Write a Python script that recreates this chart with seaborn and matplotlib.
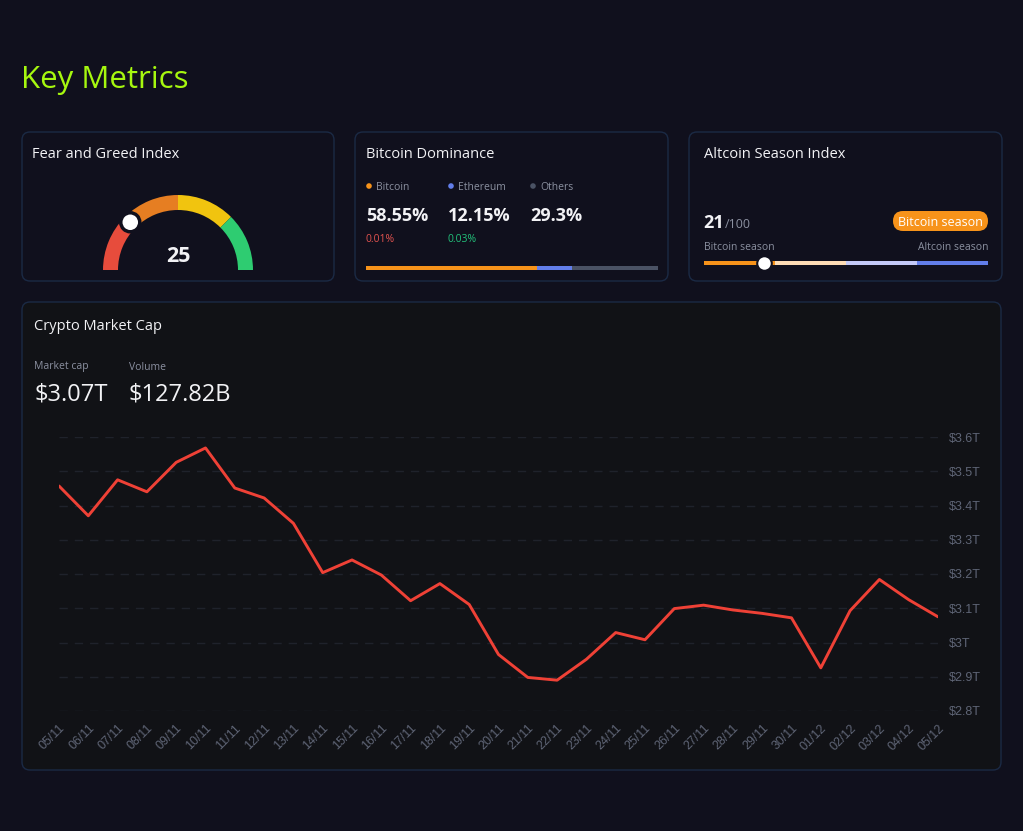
import matplotlib
matplotlib.use("Agg")
import matplotlib.pyplot as plt
from matplotlib.patches import FancyBboxPatch, Wedge, Circle
from matplotlib import font_manager
import numpy as np
import seaborn as sns
import pandas as pd

# ---- data ----
dates = ["05/11", "06/11", "07/11", "08/11", "09/11", "10/11", "11/11", "12/11",
         "13/11", "14/11", "15/11", "16/11", "17/11", "18/11", "19/11", "20/11",
         "21/11", "22/11", "23/11", "24/11", "25/11", "26/11", "27/11", "28/11",
         "29/11", "30/11", "01/12", "02/12", "03/12", "04/12", "05/12"]
market_cap = [3.457, 3.370, 3.475, 3.440, 3.526, 3.568, 3.451, 3.422,
              3.348, 3.204, 3.241, 3.197, 3.122, 3.172, 3.111, 2.965,
              2.898, 2.890, 2.951, 3.029, 3.008, 3.099, 3.109, 3.095,
              3.085, 3.072, 2.926, 3.093, 3.184, 3.125, 3.075]
y_ticks = [2.8, 2.9, 3.0, 3.1, 3.2, 3.3, 3.4, 3.5, 3.6]
y_tick_labels = ["$2.8T", "$2.9T", "$3T", "$3.1T", "$3.2T", "$3.3T", "$3.4T", "$3.5T", "$3.6T"]

fear_greed = 25
gauge_bands = [0, 25, 50, 75, 100]
gauge_colors = ["#e74c3c", "#e67e22", "#f1c40f", "#2ecc71"]

dom_names = ["Bitcoin", "Ethereum", "Others"]
dom_share = [58.55, 12.15, 29.3]
dom_labels = ["58.55%", "12.15%", "29.3%"]
dom_change = ["0.01%", "0.03%", ""]
dom_colors = ["#f7931a", "#627eea", "#4a5264"]

altcoin_index = 21
alt_bands = [25, 25, 25, 25]
alt_colors = ["#f7931a", "#fddcb5", "#c3c9f7", "#627eea"]

market_cap_now = "$3.07T"
volume_now = "$127.82B"

# ---- style ----
W, H = 1023, 831
BG = "#10101d"
CHART_BG = "#111216"
BORDER = "#1b2a45"
WHITE = "#f2f2f5"
GREY = "#8b90a0"
TICK = "#5f6576"

sns.set_theme(style="dark")

# pick a family that really has a bold face installed
weights = {}
for f in font_manager.fontManager.ttflist:
    weights.setdefault(f.name, set()).add(f.weight)
FONT = "Noto Sans"
for cand in ["Noto Sans", "Open Sans", "Lato", "Roboto", "Inter"]:
    ws = weights.get(cand, set())
    if any(w in (600, 700, "bold", "semibold") for w in ws):
        FONT = cand
        break
plt.rcParams["font.family"] = [FONT, "DejaVu Sans"]

fig = plt.figure(figsize=(W / 100, H / 100), dpi=100, facecolor=BG)
bg = fig.add_axes([0, 0, 1, 1])
bg.set_xlim(0, W)
bg.set_ylim(0, H)
bg.axis("off")


def Y(y):
    return H - y


def card(x0, y0, x1, y1, face):
    bg.add_patch(FancyBboxPatch((x0 + 8, Y(y1) + 8), x1 - x0 - 16, y1 - y0 - 16,
                                boxstyle="round,pad=8", facecolor=face,
                                edgecolor=BORDER, linewidth=1))


def txt(x, y, s, size, color=WHITE, **kw):
    # small offset: va=center sits a little high for these fonts
    bg.text(x, Y(y + 2), s, fontsize=size, color=color, va="center", **kw)


txt(21, 78, "Key Metrics", 22.5, color="#a6f70f", weight="medium")

card(22, 132, 334, 281, BG)
card(355, 132, 668, 281, BG)
card(689, 132, 1002, 281, BG)
card(22, 302, 1001, 770, CHART_BG)

# ---- fear & greed gauge ----
txt(32, 153, "Fear and Greed Index", 10.5, weight="medium")
cx, cy, r_out, r_w = 178, Y(270), 75, 15
for i, col in enumerate(gauge_colors):
    a1 = 180 - gauge_bands[i + 1] * 1.8
    a2 = 180 - gauge_bands[i] * 1.8
    bg.add_patch(Wedge((cx, cy), r_out, a1, a2, width=r_w, facecolor=col, edgecolor="none"))
ang = np.radians(180 - fear_greed * 1.8)
rm = r_out - r_w / 2
bg.add_patch(Circle((cx + rm * np.cos(ang), cy + rm * np.sin(ang)), 9.5,
                    facecolor="white", edgecolor=BG, linewidth=2.5, zorder=5))
bg.text(cx, Y(257), str(fear_greed), fontsize=15.5, color=WHITE, weight="bold",
        ha="center", va="center")

# ---- bitcoin dominance ----
txt(366, 153, "Bitcoin Dominance", 10.5, weight="medium")
col_x = [366, 448, 530]
for i, name in enumerate(dom_names):
    bg.add_patch(Circle((col_x[i] + 3, Y(186)), 2.8, facecolor=dom_colors[i], edgecolor="none"))
    txt(col_x[i] + 10, 186, name, 7.5, color=GREY)
    txt(col_x[i], 214, dom_labels[i], 13, weight="bold")
chg_colors = ["#e0524f", "#22c07a", GREY]
for i, c in enumerate(dom_change):
    if c:
        txt(col_x[i], 238, c, 7.5, color=chg_colors[i])

dax = fig.add_axes([366 / W, Y(270) / H, 292 / W, 4 / H])
left = 0
for v, col in zip(dom_share, dom_colors):
    dax.barh(0, v, left=left, height=1, color=col, linewidth=0)
    left += v
dax.set_xlim(0, 100)
dax.set_ylim(-0.5, 0.5)
dax.axis("off")

# ---- altcoin season ----
txt(704, 153, "Altcoin Season Index", 10.5, weight="medium")
txt(703, 221, str(altcoin_index), 13, weight="bold")
txt(725, 223, "/100", 9, color=GREY)
bg.add_patch(FancyBboxPatch((893, Y(231)), 95, 20, boxstyle="round,pad=0,rounding_size=10",
                            facecolor="#f7931a", edgecolor="none"))
bg.text(940.5, Y(222), "Bitcoin season", fontsize=9, color="white", ha="center", va="center")
txt(704, 246, "Bitcoin season", 7.5, color=GREY)
txt(988, 246, "Altcoin season", 7.5, color=GREY, ha="right")

aax = fig.add_axes([704 / W, Y(265) / H, 284 / W, 4 / H])
left = 0
for v, col in zip(alt_bands, alt_colors):
    aax.barh(0, v, left=left, height=1, color=col, linewidth=0)
    left += v
aax.scatter([altcoin_index], [0], s=110, color="white", edgecolor=BG, linewidth=1.5,
            zorder=5, clip_on=False)
aax.set_xlim(0, 100)
aax.set_ylim(-0.5, 0.5)
aax.axis("off")

# ---- crypto market cap ----
txt(34, 324, "Crypto Market Cap", 10.5, weight="medium")
txt(34, 365, "Market cap", 7.5, color=GREY)
txt(34, 392, market_cap_now, 17, weight="medium")
txt(129, 365, "Volume", 7.5, color=GREY)
txt(129, 392, volume_now, 17, weight="medium")

ax = fig.add_axes([59 / W, Y(711) / H, (938 - 59) / W, (711 - 437) / H])
ax.set_facecolor("none")
df = pd.DataFrame({"idx": range(len(dates)), "cap": market_cap})
sns.lineplot(data=df, x="idx", y="cap", ax=ax, color="#ef4136", linewidth=2.1)
ax.set_xlim(0, len(dates) - 1)
ax.set_ylim(2.8, 3.6)
ax.set_xlabel("")
ax.set_ylabel("")
ax.set_yticks(y_ticks)
ax.set_yticklabels(y_tick_labels, family=["Liberation Sans"], fontsize=9, color=TICK)
ax.set_xticks(range(len(dates)))
ax.set_xticklabels(dates, rotation=45, ha="right", rotation_mode="anchor",
                   family=["Liberation Sans"], fontsize=9, color=TICK)
ax.yaxis.tick_right()
ax.tick_params(axis="y", length=0, pad=8)
ax.tick_params(axis="x", length=0, pad=8)
ax.grid(axis="y", color="#1f222b", linestyle=(0, (6, 5)), linewidth=1)
ax.grid(axis="x", visible=False)
for s in ax.spines.values():
    s.set_visible(False)

fig.savefig("out.png", dpi=100, facecolor=BG)
